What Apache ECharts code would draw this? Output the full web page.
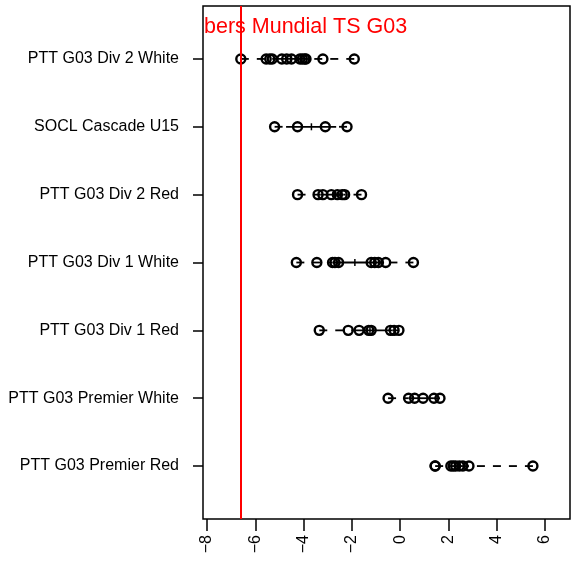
<!DOCTYPE html>
<html>
<head>
<meta charset="utf-8">
<script src="https://cdn.jsdelivr.net/npm/echarts@6/dist/echarts.min.js"></script>
<style>
html,body{margin:0;padding:0;background:#fff;}
#chart{width:571px;height:564px;}
</style>
</head>
<body>
<div id="chart"></div>
<script>
// Categories, top to bottom
const categories = [
  "PTT G03 Div 2 White",
  "SOCL Cascade U15",
  "PTT G03 Div 2 Red",
  "PTT G03 Div 1 White",
  "PTT G03 Div 1 Red",
  "PTT G03 Premier White",
  "PTT G03 Premier Red"
];
// Series values (one array per category)
const div2White   = [-6.6, -5.55, -5.4, -5.3, -4.9, -4.7, -4.5, -4.15, -4.05, -3.95, -3.9, -3.2, -1.9];
const soclU15     = [-5.2, -4.25, -3.1, -2.2];
const div2Red     = [-4.25, -3.4, -3.2, -2.85, -2.6, -2.4, -2.3, -1.6];
const div1White   = [-4.3, -3.45, -2.8, -2.7, -2.55, -1.2, -1.05, -0.9, -0.6, 0.55];
const div1Red     = [-3.35, -2.15, -1.7, -1.3, -1.2, -0.4, -0.25, -0.05];
const premWhite   = [-0.5, 0.35, 0.6, 0.95, 1.4, 1.65];
const premRed     = [1.45, 1.45, 2.1, 2.2, 2.3, 2.45, 2.6, 2.85, 5.5];
const groups = [div2White, soclU15, div2Red, div1White, div1Red, premWhite, premRed];
// Reference line
const refValue = -6.6;
const refLabel = "bers Mundial TS G03";
// Tick labels
const xTicks = [-8, -6, -4, -2, 0, 2, 4, 6];

function fivenum(a) {
  const x = [...a].sort((p, q) => p - q);
  const n = x.length;
  const n4 = Math.floor((n + 3) / 2) / 2;
  const d = [1, n4, (n + 1) / 2, n + 1 - n4, n];
  return d.map(v => 0.5 * (x[Math.floor(v) - 1] + x[Math.ceil(v) - 1]));
}

const nCat = categories.length;
const yPos = categories.map((c, i) => nCat - i);
const yTicks = yPos.slice();

const boxData = groups.map((g, i) => [yPos[i], ...fivenum(g)]);
const pointData = [];
groups.forEach((g, i) => g.forEach(v => pointData.push([v, yPos[i]])));

const chart = echarts.init(document.getElementById('chart'));
const FONT = 'Liberation Sans, Arial, Helvetica, sans-serif';

chart.setOption({
  animation: false,
  backgroundColor: '#ffffff',
  grid: {
    left: 203, right: 1, top: 6, bottom: 45,
    show: true, borderColor: '#000', borderWidth: 1.5, backgroundColor: 'transparent'
  },
  xAxis: {
    type: 'value',
    min: -8.166, max: 7.036,
    splitLine: { show: false },
    axisLine: { show: false, onZero: false },
    axisTick: { show: true, inside: false, length: 12, customValues: xTicks, lineStyle: { color: '#000', width: 1.5 } },
    axisLabel: {
      show: true, rotate: 90, margin: 16, customValues: xTicks,
      color: '#000', fontSize: 16, fontFamily: FONT,
      formatter: v => (v < 0 ? '\u2212' + Math.abs(v) : String(v))
    }
  },
  yAxis: {
    type: 'value',
    min: 0.22, max: 7.78,
    splitLine: { show: false },
    axisLine: { show: false, onZero: false },
    axisTick: { show: true, inside: false, length: 10, customValues: yTicks, lineStyle: { color: '#000', width: 1.5 } },
    axisLabel: {
      show: true, margin: 24, customValues: yTicks,
      color: '#000', fontSize: 16, fontFamily: FONT,
      formatter: v => categories[nCat - Math.round(v)] || ''
    }
  },
  graphic: [{
    type: 'text', left: 204, top: 16, z: 100,
    style: { text: refLabel, fill: '#ff0000', font: '21.5px ' + FONT }
  }],
  series: [
    {
      type: 'custom',
      data: boxData,
      encode: { x: [1, 2, 3, 4, 5], y: 0 },
      z: 2,
      renderItem: function (params, api) {
        const y = api.value(0);
        const mn = api.coord([api.value(1), y]);
        const q1 = api.coord([api.value(2), y]);
        const md = api.coord([api.value(3), y]);
        const q3 = api.coord([api.value(4), y]);
        const mx = api.coord([api.value(5), y]);
        const dash = { stroke: '#000', lineWidth: 1.8, lineDash: [8, 8] };
        const solid = { stroke: '#000', lineWidth: 1.8 };
        return {
          type: 'group',
          children: [
            { type: 'line', shape: { x1: mn[0], y1: mn[1], x2: q1[0], y2: q1[1] }, style: dash },
            { type: 'line', shape: { x1: mx[0], y1: mx[1], x2: q3[0], y2: q3[1] }, style: dash },
            { type: 'line', shape: { x1: q1[0], y1: q1[1], x2: q3[0], y2: q3[1] }, style: solid },
            { type: 'line', shape: { x1: md[0], y1: md[1] - 3.5, x2: md[0], y2: md[1] + 3.5 }, style: { stroke: '#000', lineWidth: 1.5 } }
          ]
        };
      }
    },
    {
      type: 'scatter',
      data: pointData,
      symbol: 'circle',
      symbolSize: 9,
      z: 3,
      itemStyle: { color: 'rgba(255,255,255,0)', borderColor: '#000', borderWidth: 2.4, opacity: 1 },
      markLine: {
        silent: true,
        symbol: 'none',
        label: { show: false },
        lineStyle: { color: '#ff0000', width: 2, type: 'solid' },
        data: [{ xAxis: refValue }]
      }
    }
  ]
});
</script>
</body>
</html>
